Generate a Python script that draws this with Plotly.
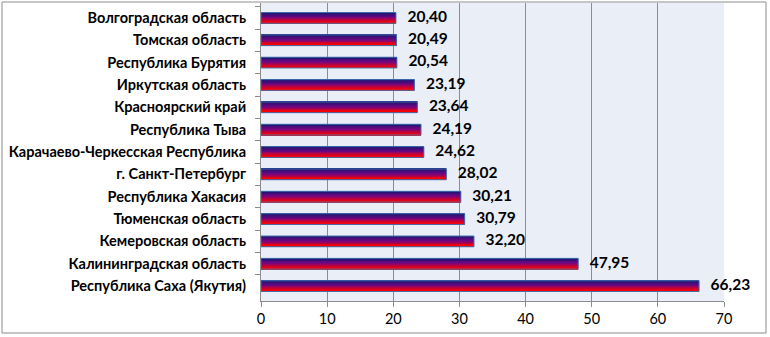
import plotly.graph_objects as go

regions = [
    "Волгоградская область",
    "Томская область",
    "Республика Бурятия",
    "Иркутская область",
    "Красноярский край",
    "Республика Тыва",
    "Карачаево-Черкесская Республика",
    "г. Санкт-Петербург",
    "Республика Хакасия",
    "Тюменская область",
    "Кемеровская область",
    "Калининградская область",
    "Республика Саха (Якутия)",
]
values = [20.40, 20.49, 20.54, 23.19, 23.64, 24.19, 24.62, 28.02, 30.21, 30.79, 32.20, 47.95, 66.23]
x_ticks = [0, 10, 20, 30, 40, 50, 60, 70]

labels = [f"{v:.2f}".replace(".", ",") for v in values]

BAR_W = 0.48
N = 12
stops = [(22, 22, 112), (115, 5, 130), (255, 0, 0)]


def lerp_color(t):
    if t <= 0.5:
        a, b, u = stops[0], stops[1], t / 0.5
    else:
        a, b, u = stops[1], stops[2], (t - 0.5) / 0.5
    return "rgb({},{},{})".format(*[round(a[k] + (b[k] - a[k]) * u) for k in range(3)])


fig = go.Figure()
for i in range(N):
    fig.add_trace(go.Bar(
        y=regions, x=values, orientation="h",
        width=BAR_W / N, offset=-BAR_W / 2 + i * BAR_W / N,
        marker=dict(color=lerp_color(i / (N - 1)), line=dict(width=0)),
        hoverinfo="skip", showlegend=False,
    ))
# outline
fig.add_trace(go.Bar(
    y=regions, x=values, orientation="h",
    width=BAR_W, offset=-BAR_W / 2,
    marker=dict(color="rgba(0,0,0,0)", line=dict(color="#3F6FAF", width=1)),
    showlegend=False,
))
# value labels
fig.add_trace(go.Scatter(
    y=regions, x=values, mode="text",
    text=["\u2002 " + s for s in labels], textposition="middle right",
    textfont=dict(family="Lato", size=15.5, color="black", weight="bold"),
    cliponaxis=False, showlegend=False, hoverinfo="skip",
))

W, H = 770, 337
ml, mr, mt, mb = 261, 46, 3, 36
pw, ph = W - ml - mr, H - mt - mb

fig.update_layout(
    width=W, height=H,
    margin=dict(l=ml, r=mr, t=mt, b=mb, pad=0),
    barmode="overlay",
    paper_bgcolor="white",
    plot_bgcolor="#E9EEF7",
    font=dict(family="Lato", color="black"),
    xaxis=dict(
        range=[0, 70], tickvals=x_ticks, showgrid=True, gridcolor="#8C8C8C", gridwidth=1,
        showline=True, linecolor="#8C8C8C", ticks="outside", ticklen=5, tickcolor="#8C8C8C",
        tickfont=dict(size=14.5, family="Lato"), zeroline=False, fixedrange=True,
    ),
    yaxis=dict(
        type="category", categoryorder="array", categoryarray=regions, autorange="reversed",
        showline=True, linecolor="#8C8C8C", ticks="outside", ticklen=5, tickcolor="#8C8C8C",
        tickson="boundaries", showgrid=False, ticklabelstandoff=11,
        tickfont=dict(size=14.5, family="Lato", weight="bold"),
    ),
    shapes=[dict(
        type="rect", xref="paper", yref="paper",
        x0=(2 - ml) / pw, x1=(766 - ml) / pw,
        y0=-(333 - mt - ph) / ph, y1=1 + (mt - 2) / ph,
        line=dict(color="#8C8C8C", width=1), fillcolor="rgba(0,0,0,0)", layer="below",
    )],
)

fig.write_html("out.html")
